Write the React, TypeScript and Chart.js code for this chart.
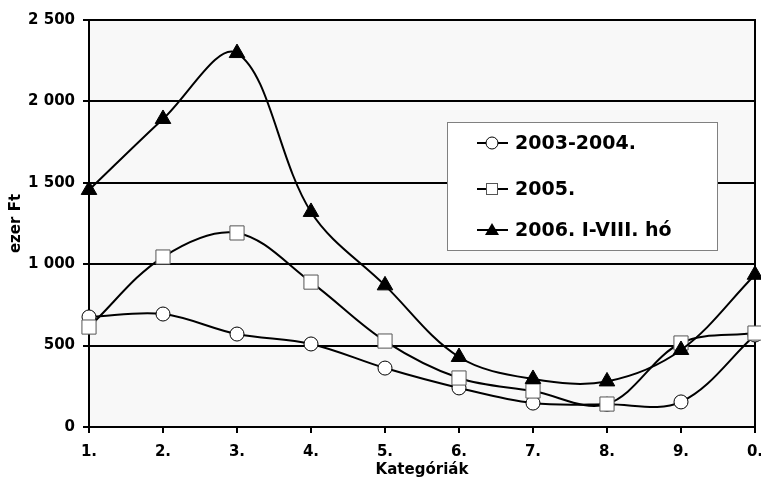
import React, { useEffect, useRef } from "react";
import { Chart, registerables } from "chart.js";

Chart.register(...registerables);

const categories = ["1.", "2.", "3.", "4.", "5.", "6.", "7.", "8.", "9.", "0."];
const series2003 = [676, 694, 571, 510, 362, 240, 147, 140, 154, 565];
const series2005 = [614, 1044, 1192, 890, 528, 301, 221, 141, 516, 577];
const series2006 = [1456, 1892, 2297, 1321, 870, 430, 295, 280, 473, 935];
const seriesLabels = ["2003-2004.", "2005.", "2006. I-VIII. hó"];
const yTicks = [0, 500, 1000, 1500, 2000, 2500];

const FONT = "'DejaVu Sans', Verdana, sans-serif";

function fmt(v: number): string {
  if (v >= 1000) return `${Math.floor(v / 1000)} ${String(v % 1000).padStart(3, "0")}`;
  return String(v);
}

const plotBg = {
  id: "plotBg",
  beforeDraw(chart: any) {
    const { ctx, chartArea: a } = chart;
    ctx.save();
    ctx.fillStyle = "#f8f8f8";
    ctx.fillRect(a.left, a.top, a.right - a.left, a.bottom - a.top);
    ctx.restore();
  },
  beforeDatasetsDraw(chart: any) {
    const { ctx, chartArea: a } = chart;
    ctx.save();
    ctx.strokeStyle = "#000";
    ctx.lineWidth = 2;
    ctx.beginPath();
    ctx.moveTo(a.left, a.top);
    ctx.lineTo(a.right, a.top);
    ctx.lineTo(a.right, a.bottom);
    ctx.stroke();
    ctx.restore();
  },
};

const boxLegend = {
  id: "boxLegend",
  afterDraw(chart: any) {
    const { ctx } = chart;
    const bx = 447, by = 122, bw = 270, bh = 128;
    ctx.save();
    ctx.fillStyle = "#fff";
    ctx.fillRect(bx, by, bw, bh);
    ctx.strokeStyle = "#808080";
    ctx.lineWidth = 1;
    ctx.strokeRect(bx + 0.5, by + 0.5, bw, bh);
    const rows = [143, 189, 230];
    chart.data.datasets.forEach((ds: any, i: number) => {
      const y = rows[i];
      ctx.strokeStyle = "#000";
      ctx.lineWidth = 2;
      ctx.beginPath();
      ctx.moveTo(477, y);
      ctx.lineTo(508, y);
      ctx.stroke();
      ctx.lineWidth = 1;
      ctx.fillStyle = ds.pointBackgroundColor;
      ctx.strokeStyle = ds.pointBorderColor;
      const cx = 492;
      if (ds.pointStyle === "circle") {
        ctx.beginPath();
        ctx.arc(cx, y, 6, 0, Math.PI * 2);
        ctx.fill();
        ctx.stroke();
      } else if (ds.pointStyle === "rect") {
        ctx.fillRect(cx - 6, y - 6, 12, 12);
        ctx.strokeRect(cx - 5.5, y - 5.5, 11, 11);
      } else {
        ctx.beginPath();
        ctx.moveTo(cx, y - 7);
        ctx.lineTo(cx + 7, y + 5);
        ctx.lineTo(cx - 7, y + 5);
        ctx.closePath();
        ctx.fill();
      }
      ctx.fillStyle = "#000";
      ctx.font = `bold 19px ${FONT}`;
      ctx.textBaseline = "middle";
      ctx.textAlign = "left";
      ctx.fillText(ds.label, 515, y + 1);
    });
    ctx.restore();
  },
};

export default function App() {
  const ref = useRef<HTMLCanvasElement>(null);
  useEffect(() => {
    document.body.style.margin = "0";
    const common = {
      borderColor: "#000",
      borderWidth: 2,
      tension: 0.35,
      pointBorderColor: "#000",
      pointBorderWidth: 1,
    };
    const chart = new Chart(ref.current!, {
      type: "line",
      data: {
        labels: categories,
        datasets: [
          {
            ...common,
            label: seriesLabels[0],
            data: series2003,
            pointStyle: "circle",
            pointRadius: 7,
            pointBackgroundColor: "#fff",
            order: 3,
          },
          {
            ...common,
            label: seriesLabels[1],
            data: series2005,
            pointStyle: "rect",
            pointRadius: 10,
            pointBackgroundColor: "#fff",
            pointBorderColor: "#555",
            order: 2,
          },
          {
            ...common,
            label: seriesLabels[2],
            data: series2006,
            pointStyle: "triangle",
            pointRadius: 9,
            pointBackgroundColor: "#000",
            order: 1,
          },
        ] as any,
      },
      options: {
        animation: false,
        responsive: false,
        layout: { autoPadding: false, padding: { top: 20, right: 6, left: 0, bottom: 0 } },
        plugins: { legend: { display: false }, tooltip: { enabled: false } },
        scales: {
          x: {
            type: "category",
            offset: false,
            afterFit: (s: any) => {
              s.height = 50;
              s.paddingLeft = 0;
              s.paddingRight = 0;
            },
            grid: {
              drawOnChartArea: false,
              drawTicks: true,
              tickLength: 6,
              color: "#000",
              lineWidth: 2,
            },
            border: { color: "#000", width: 2 },
            ticks: {
              color: "#000",
              font: { family: FONT, size: 15, weight: "bold" },
              padding: 10,
              maxRotation: 0,
              autoSkip: false,
            },
            title: {
              display: true,
              text: "Kategóriák",
              color: "#000",
              font: { family: FONT, size: 15, weight: "bold" },
              padding: { top: 0, bottom: -2 },
            },
          },
          y: {
            min: 0,
            max: 2500,
            afterFit: (s: any) => {
              s.width = 89;
            },
            afterBuildTicks: (s: any) => {
              s.ticks = yTicks.map((v) => ({ value: v }));
            },
            grid: { color: "#000", lineWidth: 2, tickLength: 6 },
            border: { color: "#000", width: 2 },
            ticks: {
              color: "#000",
              font: { family: FONT, size: 15, weight: "bold" },
              padding: 8,
              callback: (v: any) => fmt(Number(v)),
            },
            title: {
              display: true,
              text: "ezer Ft",
              color: "#000",
              font: { family: FONT, size: 15, weight: "bold" },
              padding: { top: 7, bottom: 0 },
            },
          },
        },
      },
      plugins: [plotBg, boxLegend],
    } as any);
    return () => chart.destroy();
  }, []);
  return (
    <div style={{ position: "absolute", left: 0, top: 0, width: 761, height: 477 }}>
      <canvas ref={ref} width={761} height={477} style={{ width: 761, height: 477 }} />
    </div>
  );
}
